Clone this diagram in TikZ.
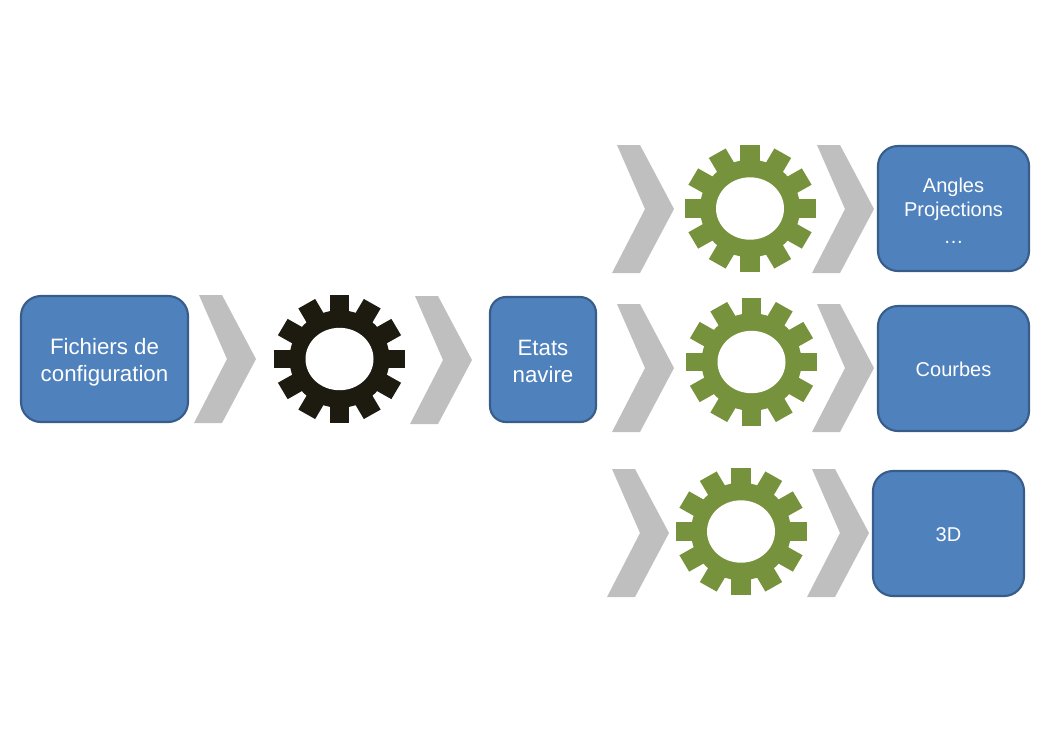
\documentclass[tikz,border=0pt]{standalone}
\usepackage{fontspec}
\setmainfont{Liberation Sans}
\definecolor{boxblue}{HTML}{4F81BD}
\definecolor{boxline}{HTML}{385D8A}
\definecolor{chevgray}{HTML}{BFBFBF}
\definecolor{gearblack}{HTML}{1D1B10}
\definecolor{geargreen}{HTML}{76923C}
\tikzset{
  box/.style={draw=boxline,fill=boxblue,line width=1.6pt,rounded corners=15pt,text=white,align=center,inner sep=0pt,font=\fontsize{15}{18}\selectfont,minimum width=113.25pt,minimum height=93.75pt},
  bigbox/.style={box,font=\fontsize{16.7}{20.6}\selectfont},
  chevron/.pic={\fill[chevgray] (-57,-64)--(-34,-64)--(0,0)--(-34,64)--(-62,64)--(-29,0)--cycle;},
  gear/.pic={
    \fill[pic actions] (0,0) circle (50);
    \foreach \a in {0,30,...,330}{\fill[pic actions,rotate=\a] (-9.7,-40) rectangle (9.7,-65.5);}
    \fill[white] (0,0) ellipse (34 and 32);
  }
}
\begin{document}
\begin{tikzpicture}[x=.75pt,y=-.75pt]
\useasboundingbox (0,0) rectangle (1052,744);
\foreach \x/\y in {256/359,472/360,674/209,874/209,674/368,874/368,669/533,869/533}{\pic at (\x,\y) {chevron};}
\pic[gearblack,yscale=.975] at (339.5,359) {gear};
\foreach \x/\y in {750/208.5,751.5/362,741/531.5}{\pic[geargreen,yscale=.975] at (\x,\y) {gear};}
\node[bigbox,minimum width=125.25pt,minimum height=94.5pt] (config) at (104.5,359) {\rule{0pt}{16.6pt}Fichiers de\\configuration};
\node[bigbox,minimum width=79.5pt,rounded corners=12pt] (etats) at (543,359.5) {\rule{0pt}{14.5pt}Etats\\navire};
\node[box] (angles) at (953.5,208.5) {\rule{0pt}{14.4pt}Angles\\Projections\\[2pt]…};
\node[box] (courbes) at (953.5,368.5) {\rule{0pt}{12.5pt}Courbes};
\node[box] (troisd) at (948.5,533.5) {\rule{0pt}{12.5pt}3D};
\end{tikzpicture}
\end{document}
